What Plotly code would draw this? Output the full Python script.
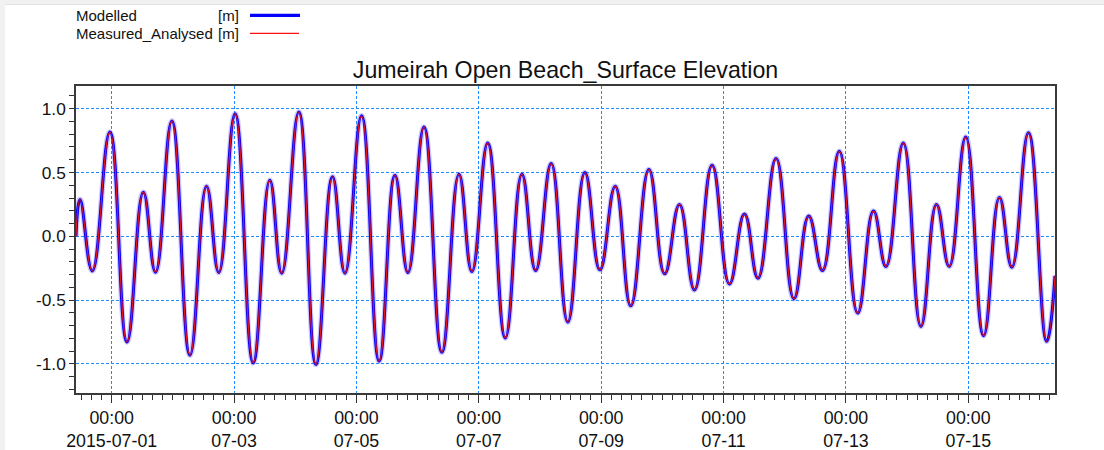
import plotly.graph_objects as go

# Surface elevation turning points (high / low water) at Jumeirah Open Beach, July 2015
times = [
    "2015-06-30 10:00", "2015-06-30 11:36", "2015-06-30 16:24", "2015-06-30 23:18",
    "2015-07-01 06:00", "2015-07-01 12:24", "2015-07-01 17:12", "2015-07-01 23:36",
    "2015-07-02 06:42", "2015-07-02 13:12", "2015-07-02 18:00", "2015-07-03 00:24",
    "2015-07-03 07:30", "2015-07-03 14:00", "2015-07-03 18:42", "2015-07-04 01:24",
    "2015-07-04 08:06", "2015-07-04 14:36", "2015-07-04 19:30", "2015-07-05 02:00",
    "2015-07-05 08:54", "2015-07-05 15:06", "2015-07-05 20:12", "2015-07-06 02:30",
    "2015-07-06 09:30", "2015-07-06 16:12", "2015-07-06 21:18", "2015-07-07 03:30",
    "2015-07-07 10:24", "2015-07-07 16:54", "2015-07-07 22:18", "2015-07-08 04:24",
    "2015-07-08 10:54", "2015-07-08 17:36", "2015-07-08 23:30", "2015-07-09 05:30",
    "2015-07-09 11:36", "2015-07-09 18:42", "2015-07-10 00:54", "2015-07-10 06:42",
    "2015-07-10 12:36", "2015-07-10 19:30", "2015-07-11 02:18", "2015-07-11 08:12",
    "2015-07-11 13:30", "2015-07-11 20:36", "2015-07-12 03:36", "2015-07-12 09:24",
    "2015-07-12 14:48", "2015-07-12 21:24", "2015-07-13 04:36", "2015-07-13 10:48",
    "2015-07-13 15:42", "2015-07-13 22:30", "2015-07-14 05:24", "2015-07-14 11:30",
    "2015-07-14 16:30", "2015-07-14 23:00", "2015-07-15 06:00", "2015-07-15 12:12",
    "2015-07-15 17:06", "2015-07-15 23:36", "2015-07-16 06:42", "2015-07-16 10:00",
]

modelled_m = [
    0.00, 0.289, -0.271, 0.817,
    -0.828, 0.346, -0.281, 0.903,
    -0.932, 0.393, -0.284, 0.961,
    -0.992, 0.440, -0.289, 0.974,
    -1.005, 0.466, -0.289, 0.945,
    -0.979, 0.479, -0.284, 0.856,
    -0.909, 0.487, -0.276, 0.732,
    -0.797, 0.487, -0.268, 0.570,
    -0.672, 0.500, -0.263, 0.393,
    -0.545, 0.523, -0.294, 0.250,
    -0.420, 0.557, -0.373, 0.174,
    -0.328, 0.609, -0.490, 0.159,
    -0.268, 0.666, -0.602, 0.198,
    -0.237, 0.732, -0.706, 0.250,
    -0.237, 0.778, -0.779, 0.305,
    -0.242, 0.812, -0.823, -0.310,
]

measured_analysed_m = [
    0.00, 0.289, -0.271, 0.817,
    -0.828, 0.346, -0.281, 0.903,
    -0.932, 0.393, -0.284, 0.961,
    -0.992, 0.440, -0.289, 0.974,
    -1.005, 0.466, -0.289, 0.945,
    -0.979, 0.479, -0.284, 0.856,
    -0.909, 0.487, -0.276, 0.732,
    -0.797, 0.487, -0.268, 0.570,
    -0.672, 0.500, -0.263, 0.393,
    -0.545, 0.523, -0.294, 0.250,
    -0.420, 0.557, -0.373, 0.174,
    -0.328, 0.609, -0.490, 0.159,
    -0.268, 0.666, -0.602, 0.198,
    -0.237, 0.732, -0.706, 0.250,
    -0.237, 0.778, -0.779, 0.305,
    -0.242, 0.812, -0.823, -0.310,
]

x_tick_values = ["2015-07-01", "2015-07-03", "2015-07-05", "2015-07-07",
                 "2015-07-09", "2015-07-11", "2015-07-13", "2015-07-15"]
x_tick_labels = ["00:00<br>2015-07-01", "00:00<br>07-03", "00:00<br>07-05", "00:00<br>07-07",
                 "00:00<br>07-09", "00:00<br>07-11", "00:00<br>07-13", "00:00<br>07-15"]
y_tick_values = [-1.0, -0.5, 0.0, 0.5, 1.0]
y_tick_labels = ["-1.0", "-0.5", "0.0", "0.5", "1.0"]

FONT = "Liberation Sans, Arial, sans-serif"
W, H = 1104, 450
PL, PR, PT, PB = 76, 1055, 86, 393


def px(xp):
    return (xp - PL) / (PR - PL)


def py(yp):
    return (PB - yp) / (PB - PT)


spline = dict(shape="spline", smoothing=1.3)

fig = go.Figure()
# soft edge around the modelled curve
fig.add_trace(go.Scatter(x=times, y=modelled_m, mode="lines", hoverinfo="skip",
                         line=dict(color="rgba(110,100,235,0.35)", width=5.5, **spline),
                         showlegend=False))
fig.add_trace(go.Scatter(x=times, y=modelled_m, mode="lines", name="Modelled",
                         line=dict(color="#0000ff", width=3, **spline), showlegend=False))
fig.add_trace(go.Scatter(x=times, y=measured_analysed_m, mode="lines", name="Measured_Analysed",
                         line=dict(color="#e3121b", width=1.2, **spline), showlegend=False))

grid = dict(showgrid=True, gridcolor="#1e8cff", gridwidth=1, griddash="3px,2px")
frame = dict(showline=True, linecolor="#3a3a3a", linewidth=1.5, mirror=True, zeroline=False)

fig.update_xaxes(
    type="date", range=["2015-06-30 10:00", "2015-07-16 10:00"],
    tickmode="array", tickvals=x_tick_values, ticktext=x_tick_labels,
    ticks="outside", ticklen=8, tickwidth=1, tickcolor="#333333",
    tickfont=dict(family=FONT, size=17.8, color="#111111"),
    minor=dict(tickmode="linear", tick0="2015-07-01", dtick=4 * 3600 * 1000,
               ticks="outside", ticklen=5, tickwidth=1, tickcolor="#333333", showgrid=False),
    automargin=False, **grid, **frame,
)
fig.update_yaxes(
    range=[-1.228, 1.178],
    tickmode="array", tickvals=y_tick_values, ticktext=y_tick_labels,
    ticks="outside", ticklen=5, tickwidth=1, tickcolor="#333333",
    tickfont=dict(family=FONT, size=17.3, color="#111111"),
    minor=dict(tickmode="linear", tick0=0, dtick=0.1,
               ticks="outside", ticklen=5, tickwidth=1, tickcolor="#333333", showgrid=False),
    automargin=False, **grid, **frame,
)

legend_font = dict(family=FONT, size=15, color="#111111")
annotations = [
    dict(text="Modelled", x=px(74), y=py(15.5)),
    dict(text="[m]", x=px(215.5), y=py(15.5)),
    dict(text="Measured_Analysed", x=px(74), y=py(33.5)),
    dict(text="[m]", x=px(215.5), y=py(33.5)),
]
for a in annotations:
    a.update(xref="paper", yref="paper", xanchor="left", yanchor="middle",
             showarrow=False, font=legend_font)

shapes = [
    # window chrome along the top and left edges
    dict(type="rect", xref="paper", yref="paper", x0=px(0), x1=px(W), y0=py(0), y1=py(4),
         fillcolor="#f1f1f1", line=dict(width=0), layer="above"),
    dict(type="line", xref="paper", yref="paper", x0=px(0), x1=px(W), y0=py(4.5), y1=py(4.5),
         line=dict(color="#e2e2e2", width=1)),
    dict(type="rect", xref="paper", yref="paper", x0=px(0), x1=px(5), y0=py(0), y1=py(H),
         fillcolor="#f1f1f1", line=dict(width=0), layer="above"),
    # legend keys
    dict(type="line", xref="paper", yref="paper", x0=px(250), x1=px(300), y0=py(15.3), y1=py(15.3),
         line=dict(color="#0000ff", width=3.2)),
    dict(type="line", xref="paper", yref="paper", x0=px(250), x1=px(299), y0=py(33.3), y1=py(33.3),
         line=dict(color="#ff1010", width=1.2)),
]

fig.update_layout(
    width=W, height=H,
    margin=dict(l=PL, r=W - PR, t=PT, b=H - PB, pad=0),
    paper_bgcolor="white", plot_bgcolor="white",
    font=dict(family=FONT, color="#111111"),
    title=dict(text="Jumeirah Open Beach_Surface Elevation", x=0.5, xref="paper", xanchor="center",
               y=1 - 69.5 / H, yref="container", yanchor="middle",
               font=dict(family=FONT, size=23.2, color="#111111")),
    annotations=annotations, shapes=shapes, showlegend=False,
)

fig.write_html("out.html")
